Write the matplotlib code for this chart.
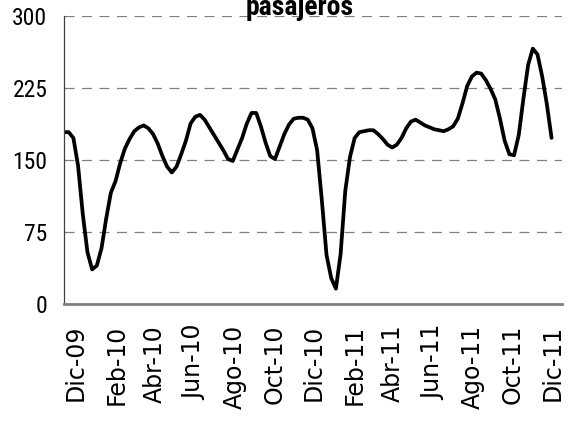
import pandas as pd
import matplotlib
matplotlib.use('Agg')
import matplotlib.pyplot as plt
from matplotlib import font_manager

# Serie de pasajeros (puntos equiespaciados)
fecha_inicio = '2009-11-13'
fecha_fin = '2011-11-30'
pasajeros = [179, 179, 173, 144, 94, 54, 36, 40, 58, 89,
             116, 128, 147, 162, 172, 180, 184, 186, 183, 177,
             167, 154, 143, 137, 143, 156, 170, 188, 195, 197,
             192, 184, 176, 168, 160, 151, 149, 161, 173, 188,
             199, 199, 185, 168, 154, 151, 164, 177, 187, 193,
             194, 194, 192, 183, 160, 108, 51, 27, 16, 52,
             118, 153, 173, 179, 180, 181, 181, 177, 172, 166,
             163, 166, 173, 183, 190, 192, 189, 186, 184, 182,
             181, 180, 182, 185, 193, 209, 227, 237, 241, 240,
             233, 224, 213, 193, 170, 156, 155, 176, 214, 249,
             266, 260, 237, 208, 173]

etiquetas_x = ['Dic-09', 'Feb-10', 'Abr-10', 'Jun-10', 'Ago-10', 'Oct-10', 'Dic-10',
               'Feb-11', 'Abr-11', 'Jun-11', 'Ago-11', 'Oct-11', 'Dic-11']
ticks_y = [0, 75, 150, 225, 300]

# Buscar una fuente estrecha si existe
instaladas = {f.name for f in font_manager.fontManager.ttflist}
estrecha = None
for nombre in ['Liberation Sans Narrow', 'Arial Narrow', 'Roboto Condensed',
               'Open Sans Condensed', 'Noto Sans Condensed', 'DejaVu Sans Condensed']:
    if nombre in instaladas:
        estrecha = nombre
        break

if estrecha:
    fuente_y = dict(family=estrecha, fontsize=17)
    fuente_titulo = dict(family=estrecha, fontsize=20)
else:
    fuente_y = dict(family='Liberation Sans', fontsize=15)
    fuente_titulo = dict(family='Liberation Sans', fontsize=17)

fechas = pd.date_range(fecha_inicio, fecha_fin, periods=len(pasajeros))
fechas_ticks = pd.date_range('2009-12-01', periods=len(etiquetas_x), freq='2MS')

fig = plt.figure(figsize=(5.73, 4.28), dpi=100)
ax = fig.add_axes([64 / 573, 124 / 428, 498 / 573, 288 / 428])

ax.plot(fechas, pasajeros, color='black', linewidth=2.7,
        solid_joinstyle='round', solid_capstyle='round')

# Ejes
ax.set_ylim(0, 300)
ax.set_xlim(pd.Timestamp('2009-11-13'), pd.Timestamp('2011-12-16'))
ax.set_yticks(ticks_y)
ax.set_yticklabels([str(v) for v in ticks_y], **fuente_y)
ax.set_xticks(fechas_ticks)
ax.set_xticklabels(etiquetas_x, rotation=90, family='DejaVu Sans',
                   fontsize=17, ha='center', va='top')
ax.tick_params(axis='both', length=0)
ax.tick_params(axis='y', pad=12)
ax.tick_params(axis='x', pad=15)

# Rejilla punteada
ax.yaxis.grid(True, color='#808080', linestyle=(0, (8, 6)), linewidth=0.9)
ax.set_axisbelow(True)
ax.spines['top'].set_visible(False)
ax.spines['right'].set_visible(False)
ax.spines['left'].set_color('#404040')
ax.spines['left'].set_linewidth(0.9)
ax.spines['bottom'].set_color('#808080')
ax.spines['bottom'].set_linewidth(2)

fig.text(300 / 573, 1 - 15 / 428, 'pasajeros', ha='center', va='baseline',
         fontweight='bold', **fuente_titulo)

fig.savefig('out.png', dpi=100)
plt.close(fig)
